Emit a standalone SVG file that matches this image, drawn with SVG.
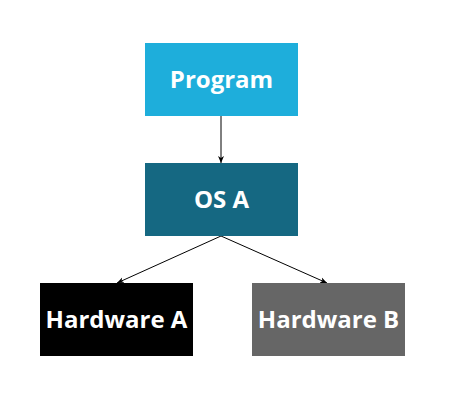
<svg xmlns="http://www.w3.org/2000/svg" width="455" height="403" viewBox="0 0 455 403">
<style>
.lbl{font-family:"Open Sans","Noto Sans","Liberation Sans",sans-serif;font-weight:bold;font-size:24px;fill:#ffffff;text-anchor:middle}
.edge{stroke:#000000;stroke-width:1;fill:none}
</style>
<defs>
<marker id="arr" markerWidth="8" markerHeight="8" refX="7" refY="4" orient="auto" markerUnits="userSpaceOnUse">
<path d="M0,1 L7,4 L0,7 L2,4 Z" fill="#000000"/>
</marker>
</defs>
<rect width="455" height="403" fill="#ffffff"/>
<g id="connectors">
<line class="edge" x1="221" y1="116" x2="221" y2="163" marker-end="url(#arr)"/>
<line class="edge" x1="221" y1="236" x2="117" y2="283" marker-end="url(#arr)"/>
<line class="edge" x1="221" y1="236" x2="327" y2="283" marker-end="url(#arr)"/>
</g>
<g id="program">
<rect x="145" y="43" width="153" height="73" fill="#1eaedb"/>
<text class="lbl" x="221.5" y="88">Program</text>
</g>
<g id="osa">
<rect x="145" y="163" width="153" height="73" fill="#156882"/>
<text class="lbl" x="221.5" y="208">OS A</text>
</g>
<g id="hardwarea">
<rect x="40" y="283" width="153" height="73" fill="#000000"/>
<text class="lbl" x="116.5" y="328">Hardware A</text>
</g>
<g id="hardwareb">
<rect x="252" y="283" width="153" height="73" fill="#666666"/>
<text class="lbl" x="328.5" y="328">Hardware B</text>
</g>
</svg>
